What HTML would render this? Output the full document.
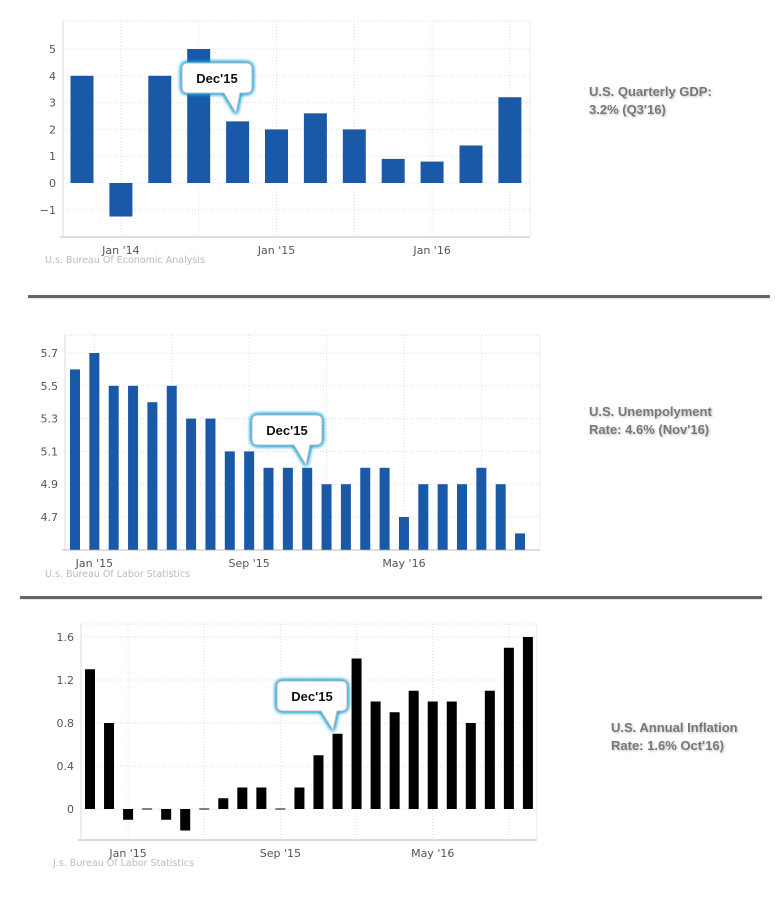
<!DOCTYPE html>
<html><head><meta charset="utf-8">
<style>
body{margin:0;background:#fff;width:784px;height:907px;overflow:hidden;font-family:"DejaVu Sans","Liberation Sans",sans-serif;}
svg{position:absolute;left:0;top:0}
.t{font-size:11px;fill:#555}
.ttl{font-size:13px;font-weight:bold;fill:#777;font-family:"Liberation Sans",sans-serif}
.src{font-size:9.5px;fill:#bbb}
</style></head>
<body>
<svg id="s" width="784" height="907">
<defs>
<filter id="glow" x="-30%" y="-30%" width="160%" height="160%"><feGaussianBlur in="SourceAlpha" stdDeviation="3"/><feFlood flood-color="#1aa3d9"/><feComposite operator="in" in2="SourceAlpha"/><feGaussianBlur stdDeviation="2"/><feMerge><feMergeNode/><feMergeNode/><feMergeNode/><feMergeNode in="SourceGraphic"/></feMerge></filter>
<filter id="ts"><feDropShadow dx="1" dy="1" stdDeviation="1" flood-color="#000" flood-opacity="0.25"/></filter>
<filter id="ls"><feDropShadow dx="0" dy="2" stdDeviation="1.5" flood-color="#000" flood-opacity="0.3"/></filter>
</defs>
<rect x="28" y="295" width="742" height="3" fill="#666" filter="url(#ls)"/>
<rect x="20" y="596" width="742" height="3" fill="#666" filter="url(#ls)"/>
<text class="ttl" x="589" y="96" filter="url(#ts)"><tspan x="589">U.S. Quarterly GDP:</tspan><tspan x="589" dy="18">3.2% (Q3'16)</tspan></text>
<text class="ttl" x="589" y="416" filter="url(#ts)"><tspan x="589">U.S. Unempolyment</tspan><tspan x="589" dy="18">Rate: 4.6% (Nov'16)</tspan></text>
<text class="ttl" x="611" y="732" filter="url(#ts)"><tspan x="611">U.S. Annual Inflation</tspan><tspan x="611" dy="18">Rate: 1.6% Oct'16)</tspan></text>
</svg>
<script>
// GDP chart data
const gdpValues=[4,-1.25,4,5,2.3,2.0,2.6,2.0,0.9,0.8,1.4,3.2];
const gdpTicks=[-1,0,1,2,3,4,5];
const gdpXLabels=[[1,"Jan '14"],[5,"Jan '15"],[9,"Jan '16"]];
// Unemployment chart data
const unValues=[5.6,5.7,5.5,5.5,5.4,5.5,5.3,5.3,5.1,5.1,5.0,5.0,5.0,4.9,4.9,5.0,5.0,4.7,4.9,4.9,4.9,5.0,4.9,4.6];
const unTicks=[4.7,4.9,5.1,5.3,5.5,5.7];
const unXLabels=[[1,"Jan '15"],[9,"Sep '15"],[17,"May '16"]];
// Inflation chart data
const infValues=[1.3,0.8,-0.1,0,-0.1,-0.2,0,0.1,0.2,0.2,0,0.2,0.5,0.7,1.4,1.0,0.9,1.1,1.0,1.0,0.8,1.1,1.5,1.6];
const infTicks=[0,0.4,0.8,1.2,1.6];
const infXLabels=[[2,"Jan '15"],[10,"Sep '15"],[18,"May '16"]];

const S=document.getElementById('s');const NS='http://www.w3.org/2000/svg';
function mk(tag,at,parent){const e=document.createElementNS(NS,tag);for(const k in at)e.setAttribute(k,at[k]);(parent||S).appendChild(e);return e;}

function chart(o){
  const g=mk('g',{});
  
  
  const y=v=>o.y0-(v-o.v0)*o.k;
  const x=i=>o.x0+i*o.dx;
  mk('line',{x1:o.left,x2:o.right,y1:o.top,y2:o.top,stroke:'#ddd','stroke-dasharray':'1,2'},g);
  o.ticks.forEach(t=>{
    const l=mk('line',{x1:o.left,x2:o.right,y1:y(t),y2:y(t),stroke:'#ddd','stroke-dasharray':'1,2'},g);
    
    
    const tx=mk('text',{x:o.left-7,y:y(t)+4,'text-anchor':'end',class:'t'},g);
    tx.textContent=(t<0?'\u2212'+Math.abs(t):String(t));
    
    
  });
  for(let i=o.vStart;i<o.values.length+1;i+=o.vStep){
    const vx=x(i);if(vx>o.right)break;
    mk('line',{x1:vx,x2:vx,y1:o.top,y2:o.bottom,stroke:'#ddd','stroke-dasharray':'1,2'},g);
  }
  mk('line',{x1:o.right,x2:o.right,y1:o.top,y2:o.bottom,stroke:'#eee'},g);
  mk('line',{x1:o.left,x2:o.left,y1:o.top,y2:o.bottom,stroke:'#ddd'},g);
  mk('line',{x1:o.left-3,x2:o.right,y1:o.bottom,y2:o.bottom,stroke:'#ddd','stroke-width':2},g);
  o.values.forEach((v,i)=>{
    const base=y(o.base),yy=y(v);
    let h=Math.abs(base-yy);if(h<1)h=1;
    const r=mk('rect',{x:x(i)-o.w/2,y:Math.min(base,yy)-(v===o.base?0.5:0),width:o.w,height:h,fill:o.color},g);
    
    
  });
  o.xl.forEach(([i,l])=>{
    const tx=mk('text',{x:x(i),y:o.labelY,'text-anchor':'middle',class:'t'},g);
    tx.textContent=l;
    
    
  });
  const s=mk('text',{x:o.srcX,y:o.srcY,class:'src'},g);s.textContent=o.src;
  
  
  const c=o.call;const cg=mk('g',{filter:'url(#glow)'},g);
  
  
  const r=6,X=c.x,Y=c.y,W=70,H=30;
  const d=`M${X+r},${Y} H${X+W-r} Q${X+W},${Y} ${X+W},${Y+r} V${Y+H-r} Q${X+W},${Y+H} ${X+W-r},${Y+H} H${c.tx+4} L${c.tx},${c.ty} L${c.tx-12},${Y+H} H${X+r} Q${X},${Y+H} ${X},${Y+H-r} V${Y+r} Q${X},${Y} ${X+r},${Y} Z`;
  mk('path',{d:d,fill:'#fff',stroke:'#bbb','stroke-width':1},cg);
  const ct=mk('text',{x:X+W/2,y:Y+20,'text-anchor':'middle','font-size':'13px','font-weight':'bold',fill:'#111','font-family':'"Liberation Sans",sans-serif'},g);
  ct.textContent="Dec'15";
}
chart({name:'gdp-chart',values:gdpValues,ticks:gdpTicks,xl:gdpXLabels,v0:0,base:0,y0:183,k:26.8,x0:82,dx:38.9,w:23,
  left:63,right:530,top:21,bottom:237,vStart:1,vStep:2,color:'#1a59a8',labelY:254,srcX:45,srcY:263,
  src:'U.s. Bureau Of Economic Analysis',call:{x:182,y:63,tx:236,ty:113}});
chart({name:'unemployment-chart',values:unValues,ticks:unTicks,xl:unXLabels,v0:4.7,base:4.5,y0:517,k:164,x0:75,dx:19.35,w:10,
  left:65,right:540,top:335,bottom:550,vStart:1,vStep:4,color:'#1a59a8',labelY:567,srcX:45,srcY:577,
  src:'U.s. Bureau Of Labor Statistics',call:{x:252,y:415,tx:306,ty:465}});
chart({name:'inflation-chart',values:infValues,ticks:infTicks,xl:infXLabels,v0:0,base:0,y0:809,k:107.5,x0:90,dx:19.04,w:10,
  left:81,right:537,top:624,bottom:840,vStart:2,vStep:4,color:'#000',labelY:857,srcX:53,srcY:866,
  src:'J.s. Bureau Of Labor Statistics',call:{x:277,y:681,tx:333,ty:730}});
</script>
</body></html>
